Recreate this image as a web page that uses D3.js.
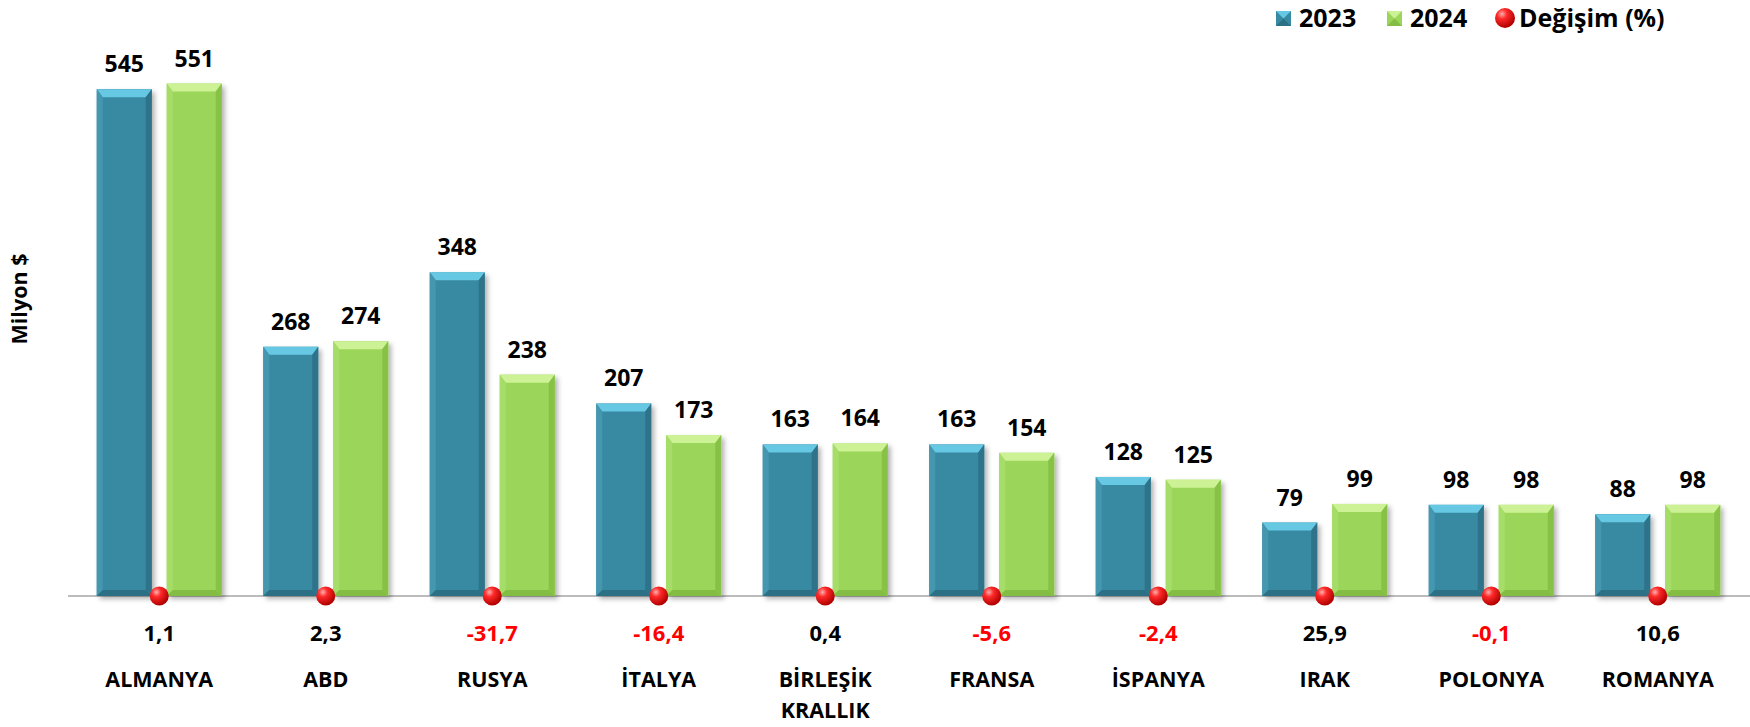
<!DOCTYPE html>
<html>
<head>
<meta charset="utf-8">
<title>Ülkeler 2023-2024</title>
<script src="https://d3js.org/d3.v7.min.js"></script>
<style>
body{margin:0;background:#fff;}
svg text{font-family:"Open Sans",Lato,sans-serif;font-weight:bold;}
</style>
</head>
<body>
<svg class="chart"></svg>
<script>
var countries=["ALMANYA","ABD","RUSYA","İTALYA","BİRLEŞİK KRALLIK","FRANSA","İSPANYA","IRAK","POLONYA","ROMANYA"];
var v2023=[545,268,348,207,163,163,128,79,98,88];
var v2024=[551,274,238,173,164,154,125,99,98,98];
var change=[1.1,2.3,-31.7,-16.4,0.4,-5.6,-2.4,25.9,-0.1,10.6];
var series=["2023","2024"];

var width=1750,height=727;
var svg=d3.select(".chart").attr("width",width).attr("height",height);
var defs=svg.append("defs");

var x=d3.scaleBand().domain(countries).range([76,1741]);
var y=d3.scaleLinear().domain([0,600]).range([596,38]);
var fmt=function(v){return d3.format(".1f")(v).replace(".",",").replace("\u2212","-");};

var styles={
  "2023":{body:"#3889a2",top:"#66c8e3",left:"#4597b0",right:"#2e7389",bottom:"#2c7086"},
  "2024":{body:"#9bd65a",top:"#cdf295",left:"#a6dc68",right:"#87c247",bottom:"#83bd44"}
};

// shadow filter
var f=defs.append("filter").attr("id","shadow").attr("x","-20%").attr("y","-20%").attr("width","150%").attr("height","150%");
f.append("feDropShadow").attr("dx",3).attr("dy",3).attr("stdDeviation",2.5).attr("flood-color","#000").attr("flood-opacity",0.3);

var rg=defs.append("radialGradient").attr("id","dot").attr("cx","35%").attr("cy","30%").attr("r","70%");
rg.append("stop").attr("offset","0%").attr("stop-color","#ffb0b0");
rg.append("stop").attr("offset","35%").attr("stop-color","#ff2a2a");
rg.append("stop").attr("offset","100%").attr("stop-color","#b00000");

// axis line
svg.append("line").attr("x1",68).attr("x2",1750).attr("y1",y(0)).attr("y2",y(0))
  .attr("stroke","#a6a6a6").attr("stroke-width",1.5);

var barW=55,off=35,bv=6;
function bevelBar(g,cx,val,st){
  var x0=cx-barW/2,x1=cx+barW/2,y0=y(val),y1=y(0);
  var b=g.append("g");
  b.append("rect").attr("x",x0).attr("y",y0).attr("width",barW).attr("height",y1-y0)
    .attr("fill",st.body).attr("filter","url(#shadow)");
  b.append("polygon").attr("points",[[x0,y0],[x1,y0],[x1-bv,y0+bv+2],[x0+bv,y0+bv+2]].join(" ")).attr("fill",st.top);
  b.append("polygon").attr("points",[[x0,y0],[x0+bv,y0+bv+2],[x0+bv,y1-bv],[x0,y1]].join(" ")).attr("fill",st.left);
  b.append("polygon").attr("points",[[x1,y0],[x1,y1],[x1-bv,y1-bv],[x1-bv,y0+bv+2]].join(" ")).attr("fill",st.right);
  b.append("polygon").attr("points",[[x0,y1],[x0+bv,y1-bv],[x1-bv,y1-bv],[x1,y1]].join(" ")).attr("fill",st.bottom);
}

countries.forEach(function(c,i){
  var cx=x(c)+x.bandwidth()/2;
  var g=svg.append("g");
  [[v2023[i],-off,"2023"],[v2024[i],off,"2024"]].forEach(function(s){
    bevelBar(g,cx+s[1],s[0],styles[s[2]]);
    g.append("text").attr("x",cx+s[1]).attr("y",y(s[0])-17).attr("text-anchor","middle")
      .attr("font-size","23px").attr("fill","#000").text(s[0]);
  });
  g.append("circle").attr("cx",cx).attr("cy",y(0)).attr("r",9.5).attr("fill","url(#dot)");
  g.append("text").attr("x",cx).attr("y",641).attr("text-anchor","middle").attr("font-size","22px")
    .attr("fill",change[i]<0?"#ff0000":"#000").text(fmt(change[i]));
  var words=c.split(" ");
  words.forEach(function(w,k){
    g.append("text").attr("x",cx).attr("y",687+k*31).attr("text-anchor","middle").attr("font-size","21.5px")
      .attr("fill","#000").text(w);
  });
});

// y title
svg.append("text").attr("transform","translate(27,299) rotate(-90)").attr("text-anchor","middle")
  .attr("font-size","21.5px").text("Milyon $");

// legend
var lg=svg.append("g");
[["2023",1276],["2024",1387]].forEach(function(d){
  var st=styles[d[0]],s=15,x0=d[1],y0=11;
  lg.append("rect").attr("x",x0).attr("y",y0).attr("width",s).attr("height",s).attr("fill",st.body);
  lg.append("polygon").attr("points",[[x0,y0],[x0+s,y0],[x0+s/2,y0+s/2]].join(" ")).attr("fill",st.top);
  lg.append("polygon").attr("points",[[x0,y0+s],[x0+s,y0+s],[x0+s/2,y0+s/2]].join(" ")).attr("fill",st.bottom);
  lg.append("text").attr("x",x0+23).attr("y",27).attr("font-size","25px").text(d[0]);
});
lg.append("circle").attr("cx",1505).attr("cy",18).attr("r",10).attr("fill","url(#dot)");
lg.append("text").attr("x",1519).attr("y",27).attr("font-size","25px").text("Değişim (%)");
</script>
</body>
</html>
